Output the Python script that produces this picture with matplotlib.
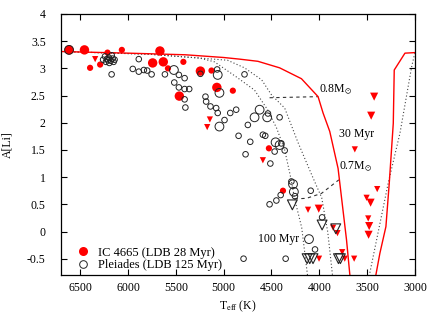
import matplotlib
matplotlib.use("Agg")
import matplotlib.pyplot as plt
from matplotlib.lines import Line2D
from matplotlib.ticker import FormatStrFormatter

plt.rcParams['font.family'] = ['Liberation Serif', 'DejaVu Serif']
plt.rcParams['mathtext.fontset'] = 'stix'
plt.rcParams['axes.unicode_minus'] = False

# IC 4665 detections: Teff, A(Li), symbol size class
ic_teff = [6616, 6455, 6396, 6291, 6214, 6064, 5742, 5666, 5631, 5582, 5421, 5463,
           5243, 5127, 5071, 4904, 4527, 4380]
ic_ali = [3.34, 3.34, 3.01, 3.07, 3.29, 3.34, 3.10, 3.32, 3.12, 3.00, 3.12, 2.49,
          2.95, 2.96, 2.65, 2.59, 1.53, 0.75]
ic_size = [3, 3, 2, 2, 2, 2, 3, 3, 3, 2, 2, 3, 3, 2, 3, 2, 2, 2]

# IC 4665 upper limits
icl_teff = [6343, 5144, 5172, 4590, 4118, 4006, 3856, 3810, 3761, 3734, 3636, 4003,
            3629, 3506, 3464, 3395, 3489, 3479, 3485, 3427, 3458]
icl_ali = [3.17, 2.06, 1.92, 1.31, 0.40, 0.42, 0.07, -0.03, -0.38, -0.50, -0.50, -0.50,
           1.51, 0.62, 0.53, 0.78, 0.24, 0.10, -0.06, 2.48, 2.13]
icl_size = [1, 1, 1, 1, 1, 2, 1, 1, 1, 1, 1, 1, 1, 1, 2, 1, 1, 2, 2, 2, 2]

# Pleiades detections
pl_teff = [6616, 6240, 6220, 6200, 6180, 6160, 6150, 6195, 6230, 6170, 6260, 6140, 6210,
           6171, 5887, 5950, 5887, 5834, 5799, 5753, 5614, 5520, 5468, 5408, 5516, 5468,
           5408, 5360, 5408, 5400, 5243, 5068, 5062, 5044, 5190, 5183, 5138, 5078, 5062,
           5044, 4991, 4931, 4869, 4844, 4782, 4747, 4722, 4771, 4624, 4677, 4537, 4545,
           4415, 4590, 4565, 4457, 4415, 4467, 4362, 4397, 4512, 4292, 4275, 4266, 4255,
           4404, 4449, 4520, 4090, 3971, 4108, 4045, 4792, 4352]
pl_ali = [3.34, 3.22, 3.17, 3.20, 3.14, 3.18, 3.12, 3.10, 3.12, 3.24, 3.16, 3.16, 3.15,
          2.89, 3.17, 2.99, 2.94, 2.97, 2.96, 2.89, 2.89, 2.97, 2.88, 2.82, 2.74, 2.65,
          2.62, 2.62, 2.43, 2.28, 2.90, 2.98, 2.88, 2.55, 2.48, 2.39, 2.30, 2.27, 2.18,
          1.93, 2.05, 2.18, 2.24, 1.76, 2.89, 1.96, 1.65, 1.42, 2.24, 2.10, 2.17, 2.10,
          2.10, 1.78, 1.76, 1.64, 1.59, 1.47, 1.49, 1.62, 1.25, 0.92, 0.87, 0.73, 0.65,
          0.67, 0.57, 0.50, 0.75, 0.26, -0.14, -0.33, -0.50, -0.50]
pl_size = [2, 1, 1, 1, 1, 1, 1, 1, 1, 1, 1, 1, 1,
           1, 1, 1, 1, 1, 1, 1, 1, 2, 1, 1, 1, 1,
           1, 1, 1, 1, 1, 1, 2, 2, 1, 1, 1, 1, 1,
           2, 1, 1, 1, 1, 1, 1, 1, 1, 2, 2, 1, 2,
           1, 1, 1, 2, 2, 1, 1, 1, 1, 1, 2, 2, 1,
           1, 1, 1, 1, 1, 2, 1, 1, 1]

# Pleiades upper limits
pll_teff = [4282, 3971, 3828, 4128, 4100, 4066, 3800, 3780]
pll_ali = [0.49, 0.12, 0.05, -0.50, -0.50, -0.50, -0.50, -0.50]

# 30 Myr model isochrone (two visible branches)
iso30_teff = [6700, 6000, 5400, 5000, 4834, 4642, 4415, 4187, 4013, 3961, 3891, 3804,
              3751, 3716, 3670]
iso30_ali = [3.31, 3.28, 3.25, 3.20, 3.17, 3.13, 3.01, 2.81, 2.48, 2.18, 1.84, 1.16,
             0.37, -0.15, -1.0]
iso30b_teff = [3430, 3367, 3304, 3269, 3227, 3217, 3105, 3000]
iso30b_ali = [-1.0, -0.40, 0.09, 0.89, 1.99, 2.97, 3.28, 3.29]

# 100 Myr model curves (dotted)
isoA_teff = [6700, 5777, 5253, 4960, 4782, 4603, 4499, 4362, 4226, 4079, 3975, 3912, 3850]
isoA_ali = [3.31, 3.26, 3.19, 3.15, 3.01, 2.79, 2.51, 2.27, 1.65, 1.04, 0.62, -0.01, -1.0]
isoB_teff = [6700, 5777, 5253, 5096, 4865, 4677, 4541, 4446, 4362, 4300, 4258, 4184, 4110]
isoB_ali = [3.31, 3.26, 3.19, 3.12, 2.84, 2.60, 2.24, 1.90, 1.50, 1.00, 0.60, 0.07, -1.0]
isoC_teff = [3500, 3401, 3280, 3157, 3035, 3010, 3000]
isoC_ali = [-1.0, -0.15, 0.89, 1.81, 3.03, 3.22, 3.28]

# mass tracks (dashed)
m08_teff = [4520, 4013]
m08_ali = [2.46, 2.48]
m07_teff = [4258, 4135, 3978, 3796]
m07_ali = [0.60, 0.61, 0.70, 0.95]

red_s = {1: 13, 2: 20, 3: 46}
tri_s = {1: 20, 2: 34}
open_s = {1: 16, 2: 40}

fig = plt.figure(figsize=(4.36, 3.12), dpi=100)
ax = fig.add_axes([61/436, 1-275/312, 354/436, 261/312])

ax.plot(isoA_teff, isoA_ali, color='#444444', lw=0.8, ls=(0, (1, 2)))
ax.plot(isoB_teff, isoB_ali, color='#444444', lw=0.8, ls=(0, (1, 2)))
ax.plot(isoC_teff, isoC_ali, color='#444444', lw=0.8, ls=(0, (1, 2)))
ax.plot(m08_teff, m08_ali, color='#333333', lw=0.8, ls=(0, (3, 3)))
ax.plot(m07_teff, m07_ali, color='#333333', lw=0.8, ls=(0, (3, 3)))
ax.plot(iso30_teff, iso30_ali, color='red', lw=1.0)
ax.plot(iso30b_teff, iso30b_ali, color='red', lw=1.0)

ax.scatter(ic_teff, ic_ali, s=[red_s[k] for k in ic_size], c='red', edgecolors='none', zorder=3)
ax.scatter(icl_teff, icl_ali, s=[tri_s[k] for k in icl_size], c='red', marker='v',
           edgecolors='none', zorder=3)
ax.scatter(pl_teff, pl_ali, s=[open_s[k] for k in pl_size], facecolors='none',
           edgecolors='#222222', linewidths=0.7, zorder=4)
ax.scatter(pll_teff, pll_ali, s=50, marker='v', facecolors='none',
           edgecolors='#222222', linewidths=0.8, zorder=4)

fs = 8.5
ax.text(4006, 2.60, r'0.8M$_{\odot}$', fontsize=fs, va='center', ha='left')
ax.text(3793, 1.79, '30 Myr', fontsize=fs, va='center', ha='left')
ax.text(3793, 1.19, r'0.7M$_{\odot}$', fontsize=fs, va='center', ha='left')
ax.text(4216, -0.14, '100 Myr', fontsize=fs, va='center', ha='right')

ax.set_xlim(6700, 3000)
ax.set_ylim(-0.8, 4)
ax.set_xticks([6500, 6000, 5500, 5000, 4500, 4000, 3500, 3000])
ax.set_yticks([-0.5, 0, 0.5, 1, 1.5, 2, 2.5, 3, 3.5, 4])
ax.yaxis.set_major_formatter(FormatStrFormatter('%g'))
ax.tick_params(direction='in', top=True, right=True, length=4, width=0.8, labelsize=fs)
ax.tick_params(axis='y', pad=11)
ax.tick_params(axis='x', pad=5)
for sp in ax.spines.values():
    sp.set_linewidth(0.9)

ax.set_xlabel(r'T$_{\rm eff}$ (K)', fontsize=fs, labelpad=3)
ax.set_ylabel('A[Li]', fontsize=fs, labelpad=10)

handles = [Line2D([], [], ls='none', marker='o', color='red', markersize=6.5, markeredgewidth=0),
           Line2D([], [], ls='none', marker='o', markerfacecolor='none', markeredgecolor='#222222',
                  markersize=5.5, markeredgewidth=0.7)]
ax.legend(handles, ['IC 4665 (LDB 28 Myr)', 'Pleiades (LDB 125 Myr)'], loc='lower left',
          frameon=False, fontsize=9, handlelength=1.2, handletextpad=0.6, labelspacing=0.05,
          borderaxespad=0.3, bbox_to_anchor=(0.015, -0.02))

fig.savefig('out.png', dpi=100)
